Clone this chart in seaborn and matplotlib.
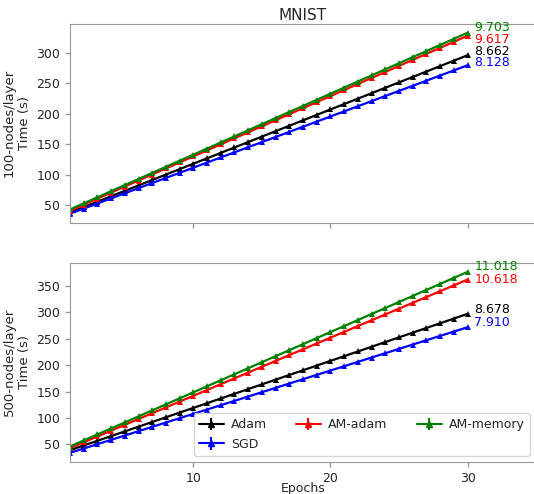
import numpy as np
import pandas as pd
import matplotlib
matplotlib.use("Agg")
import matplotlib.pyplot as plt
import seaborn as sns

epochs = list(range(1, 31))

# 100 nodes / layer
top_adam = [38, 46.9, 55.8, 64.7, 73.6, 82.5, 91.4, 100.3, 109.2, 118.1, 127.0, 135.9, 144.8, 153.7, 162.6,
            171.5, 180.4, 189.3, 198.2, 207.1, 216.0, 224.9, 233.8, 242.7, 251.6, 260.5, 269.4, 278.3, 287.2, 296.1]
top_sgd = [36, 44.4, 52.8, 61.2, 69.6, 78.0, 86.4, 94.8, 103.2, 111.6, 120.0, 128.4, 136.8, 145.2, 153.6,
           162.0, 170.4, 178.8, 187.2, 195.6, 204.0, 212.4, 220.8, 229.2, 237.6, 246.0, 254.4, 262.8, 271.2, 279.6]
top_am_adam = [41.0, 50.9, 60.8, 70.7, 80.6, 90.5, 100.4, 110.3, 120.2, 130.1, 140.0, 149.9, 159.8, 169.7, 179.6,
               189.5, 199.4, 209.3, 219.2, 229.1, 239.0, 248.9, 258.8, 268.7, 278.6, 288.5, 298.4, 308.3, 318.2, 328.1]
top_am_memory = [43, 53, 63, 73, 83, 93, 103, 113, 123, 133, 143, 153, 163, 173, 183,
                 193, 203, 213, 223, 233, 243, 253, 263, 273, 283, 293, 303, 313, 323, 333]

# 500 nodes / layer
bot_adam = [39, 47.9, 56.8, 65.7, 74.6, 83.5, 92.4, 101.3, 110.2, 119.1, 128.0, 136.9, 145.8, 154.7, 163.6,
            172.5, 181.4, 190.3, 199.2, 208.1, 217.0, 225.9, 234.8, 243.7, 252.6, 261.5, 270.4, 279.3, 288.2, 297.1]
bot_sgd = [34, 42.2, 50.4, 58.6, 66.8, 75.0, 83.2, 91.4, 99.6, 107.8, 116.0, 124.2, 132.4, 140.6, 148.8,
           157.0, 165.2, 173.4, 181.6, 189.8, 198.0, 206.2, 214.4, 222.6, 230.8, 239.0, 247.2, 255.4, 263.6, 271.8]
bot_am_adam = [43, 54, 65, 76, 87, 98, 109, 120, 131, 142, 153, 164, 175, 186, 197,
               208, 219, 230, 241, 252, 263, 274, 285, 296, 307, 318, 329, 340, 351, 362]
bot_am_memory = [46, 57.4, 68.8, 80.2, 91.6, 103.0, 114.4, 125.8, 137.2, 148.6, 160.0, 171.4, 182.8, 194.2, 205.6,
                 217.0, 228.4, 239.8, 251.2, 262.6, 274.0, 285.4, 296.8, 308.2, 319.6, 331.0, 342.4, 353.8, 365.2, 376.6]

methods = ["Adam", "SGD", "AM-adam", "AM-memory"]
colors = ["k", "b", "r", "g"]
top_labels = ["8.662", "8.128", "9.617", "9.703"]
bot_labels = ["8.678", "7.910", "10.618", "11.018"]

sns.set_style("ticks", {"axes.edgecolor": "#999999", "xtick.color": "#999999", "ytick.color": "#999999",
                        "text.color": "#262626", "axes.labelcolor": "#262626"})
plt.rcParams["font.family"] = ["DejaVu Sans"]
plt.rcParams["xtick.labelcolor"] = "#262626"
plt.rcParams["ytick.labelcolor"] = "#262626"

fig = plt.figure(figsize=(5.34, 4.94), dpi=100)
ax1 = fig.add_axes([0.131, 0.549, 0.873, 0.403])
ax2 = fig.add_axes([0.131, 0.065, 0.873, 0.403])

panels = [
    (ax1, [top_adam, top_sgd, top_am_adam, top_am_memory], top_labels, [303, 284, 322, 341]),
    (ax2, [bot_adam, bot_sgd, bot_am_adam, bot_am_memory], bot_labels, [305, 280, 363, 386]),
]

for ax, series, labels, label_y in panels:
    handles = []
    for name, vals, c, lab, ly in zip(methods, series, colors, labels, label_y):
        df = pd.DataFrame({"Epochs": epochs, "Time": vals})
        sns.lineplot(data=df, x="Epochs", y="Time", ax=ax, color=c, marker="^",
                     markersize=5, markeredgewidth=0, linewidth=1.6, legend=False)
        h = ax.errorbar([np.nan], [np.nan], yerr=[0], color=c, marker="^", markersize=4,
                        linewidth=1.5, label=name)
        handles.append(h)
        ax.text(30.5, ly, lab, color=c, fontsize=9, va="center", ha="left")
    ax.set_xlim(1, 35)
    ax.set_xticks([10, 20, 30])
    ax.tick_params(labelsize=9, length=3.5, width=1)
    ax.set_xlabel("")

ax1.set_yticks([50, 100, 150, 200, 250, 300])
ax1.set_xticklabels([])
ax1.set_ylabel("100-nodes/layer\nTime (s)", fontsize=9.5)
ax1.set_title("MNIST", fontsize=11, pad=3)

ax2.set_yticks([50, 100, 150, 200, 250, 300, 350])
ax2.set_ylabel("500-nodes/layer\nTime (s)", fontsize=9.5)
ax2.set_xlabel("Epochs", fontsize=9, labelpad=-2)
ax2.legend(handles=handles, loc="lower right", ncol=3, fontsize=9, framealpha=0.8,
           columnspacing=2.3, handletextpad=0.6)

fig.savefig("out.png", dpi=100)
